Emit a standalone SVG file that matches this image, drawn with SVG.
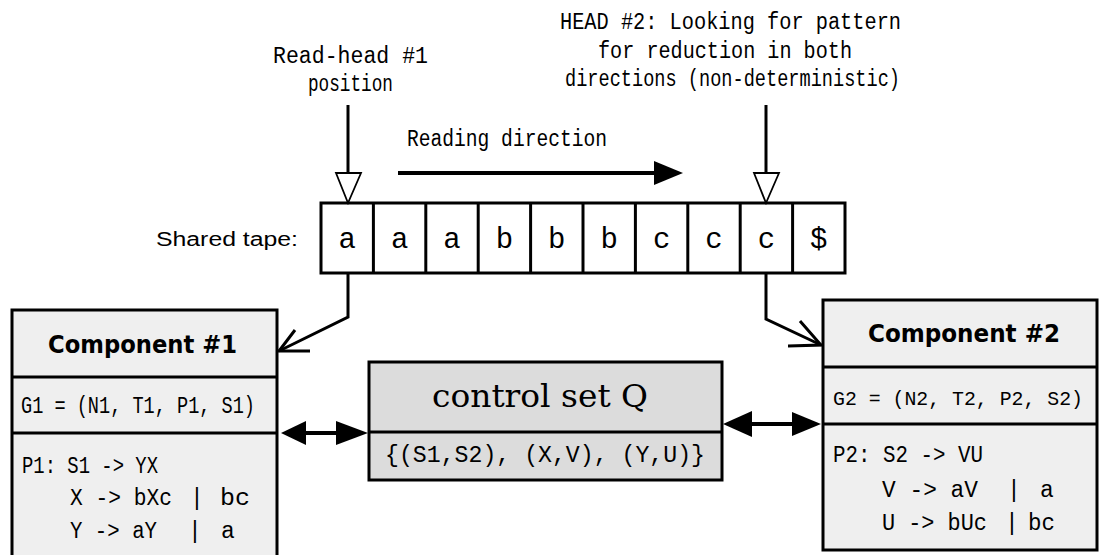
<svg xmlns="http://www.w3.org/2000/svg" width="1102" height="555" viewBox="0 0 1102 555">
  <style>
    .mono { font-family: "Liberation Mono", "DejaVu Sans Mono", monospace; font-size: 23px; fill: #000; }
    .gram { font-size: 21px; }
    .cell { font-family: "Liberation Mono", "DejaVu Sans Mono", monospace; font-size: 29px; fill: #000; text-anchor: middle; }
    .sans { font-family: "Liberation Sans", Arial, sans-serif; font-size: 20px; fill: #000; }
    .title { font-family: "DejaVu Sans", "Liberation Sans", sans-serif; font-weight: bold; font-size: 24px; fill: #000; }
    .serif { font-family: "DejaVu Serif", "Liberation Serif", serif; font-size: 31px; fill: #000; }
    .box { stroke: #000; stroke-width: 3; }
    .comp { fill: #efefef; }
    .ctrl { fill: #dcdcdc; }
    .div { stroke: #000; stroke-width: 3; }
    .line { fill: none; stroke: #000; stroke-width: 3; }
    .thick { fill: none; stroke: #000; stroke-width: 4; }
    .head { fill: #000; stroke: none; }
    .open { fill: #fff; stroke: #000; stroke-width: 1.8; }
  </style>

  <rect x="0" y="0" width="1102" height="555" fill="#fff"/>

  <!-- captions above the tape -->
  <g id="captions">
    <text class="mono" x="273" y="63" textLength="155" lengthAdjust="spacingAndGlyphs">Read-head #1</text>
    <text class="mono" x="308" y="91" textLength="85" lengthAdjust="spacingAndGlyphs">position</text>
    <text class="mono" x="407" y="146" textLength="200" lengthAdjust="spacingAndGlyphs">Reading direction</text>
    <text class="mono" x="560" y="29" textLength="341" lengthAdjust="spacingAndGlyphs">HEAD #2: Looking for pattern</text>
    <text class="mono" x="598" y="58" textLength="254" lengthAdjust="spacingAndGlyphs">for reduction in both</text>
    <text class="mono" x="565" y="86" textLength="335" lengthAdjust="spacingAndGlyphs">directions (non-deterministic)</text>
  </g>

  <!-- shared tape -->
  <g id="tape">
    <text class="sans" x="156" y="246" textLength="142" lengthAdjust="spacingAndGlyphs">Shared tape:</text>
    <rect x="321" y="203" width="524" height="70" fill="#fff" class="box"/>
    <g class="div">
      <line x1="373.4" y1="203" x2="373.4" y2="273"/>
      <line x1="425.8" y1="203" x2="425.8" y2="273"/>
      <line x1="478.2" y1="203" x2="478.2" y2="273"/>
      <line x1="530.6" y1="203" x2="530.6" y2="273"/>
      <line x1="583" y1="203" x2="583" y2="273"/>
      <line x1="635.4" y1="203" x2="635.4" y2="273"/>
      <line x1="687.8" y1="203" x2="687.8" y2="273"/>
      <line x1="740.2" y1="203" x2="740.2" y2="273"/>
      <line x1="792.6" y1="203" x2="792.6" y2="273"/>
    </g>
    <text class="cell" x="347.2" y="248">a</text>
    <text class="cell" x="399.6" y="248">a</text>
    <text class="cell" x="452" y="248">a</text>
    <text class="cell" x="504.4" y="248">b</text>
    <text class="cell" x="556.8" y="248">b</text>
    <text class="cell" x="609.2" y="248">b</text>
    <text class="cell" x="661.6" y="248">c</text>
    <text class="cell" x="714" y="248">c</text>
    <text class="cell" x="766.4" y="248">c</text>
    <text class="cell" x="818.8" y="248">$</text>
  </g>

  <!-- component #1 -->
  <g id="component1">
    <rect x="12" y="310" width="265" height="262" class="box comp"/>
    <line x1="12" y1="377" x2="277" y2="377" class="div"/>
    <line x1="12" y1="433" x2="277" y2="433" class="div"/>
    <text class="title" x="48" y="353" textLength="189" lengthAdjust="spacingAndGlyphs">Component #1</text>
    <text class="mono" x="21" y="413" textLength="234" lengthAdjust="spacingAndGlyphs">G1 = (N1, T1, P1, S1)</text>
    <text class="mono" x="22" y="473" textLength="136" lengthAdjust="spacingAndGlyphs">P1: S1 -&gt; YX</text>
    <text class="mono" x="70" y="505" textLength="102" lengthAdjust="spacingAndGlyphs">X -&gt; bXc</text>
    <text class="mono" x="197" y="505" text-anchor="middle">|</text>
    <text class="mono" x="220" y="505" textLength="30" lengthAdjust="spacingAndGlyphs">bc</text>
    <text class="mono" x="70" y="538" textLength="87" lengthAdjust="spacingAndGlyphs">Y -&gt; aY</text>
    <text class="mono" x="195" y="538" text-anchor="middle">|</text>
    <text class="mono" x="221" y="538">a</text>
  </g>

  <!-- component #2 -->
  <g id="component2">
    <rect x="823" y="300" width="274" height="250" class="box comp"/>
    <line x1="823" y1="367" x2="1097" y2="367" class="div"/>
    <line x1="823" y1="424" x2="1097" y2="424" class="div"/>
    <text class="title" x="868" y="342" textLength="192" lengthAdjust="spacingAndGlyphs">Component #2</text>
    <text class="mono gram" x="833" y="405" textLength="250" lengthAdjust="spacingAndGlyphs">G2 = (N2, T2, P2, S2)</text>
    <text class="mono" x="833" y="462" textLength="150" lengthAdjust="spacingAndGlyphs">P2: S2 -&gt; VU</text>
    <text class="mono" x="882" y="497" textLength="96" lengthAdjust="spacingAndGlyphs">V -&gt; aV</text>
    <text class="mono" x="1014" y="497" text-anchor="middle">|</text>
    <text class="mono" x="1040" y="497">a</text>
    <text class="mono" x="882" y="530" textLength="105" lengthAdjust="spacingAndGlyphs">U -&gt; bUc</text>
    <text class="mono" x="1012" y="530" text-anchor="middle">|</text>
    <text class="mono" x="1028" y="530" textLength="27" lengthAdjust="spacingAndGlyphs">bc</text>
  </g>

  <!-- control set -->
  <g id="control">
    <rect x="369" y="362" width="353" height="118" class="box ctrl"/>
    <line x1="369" y1="432" x2="722" y2="432" class="div"/>
    <text class="serif" x="432" y="407" textLength="216" lengthAdjust="spacingAndGlyphs">control set Q</text>
    <text class="mono" x="385" y="462" textLength="320" lengthAdjust="spacingAndGlyphs">{(S1,S2), (X,V), (Y,U)}</text>
  </g>

  <!-- connectors -->
  <g id="connectors">
    <!-- read heads -->
    <line x1="348" y1="105" x2="348" y2="173" class="line"/>
    <polygon points="336,173 361,173 348,203" class="open"/>
    <line x1="766" y1="105" x2="766" y2="173" class="line"/>
    <polygon points="754,173 779,173 766,203" class="open"/>

    <!-- reading direction -->
    <line x1="398" y1="173" x2="656" y2="173" class="thick"/>
    <polygon points="654,161 683,173 654,185" class="head"/>

    <!-- tape to components -->
    <polyline points="348,273 348,317 279,351" class="line"/>
    <polyline points="295,330 279,351 310,351" class="line"/>
    <polyline points="766,273 766,319 821,345" class="line"/>
    <polyline points="800,321 821,345 788,346" class="line"/>

    <!-- component #1 <-> control set -->
    <line x1="290" y1="433" x2="350" y2="433" class="thick"/>
    <polygon points="281,433 306,421 306,445" class="head"/>
    <polygon points="368,433 336,421 336,445" class="head"/>

    <!-- control set <-> component #2 -->
    <line x1="735" y1="424" x2="805" y2="424" class="thick"/>
    <polygon points="723,424 752,411 752,437" class="head"/>
    <polygon points="821,424 792,412 792,436" class="head"/>
  </g>
</svg>
